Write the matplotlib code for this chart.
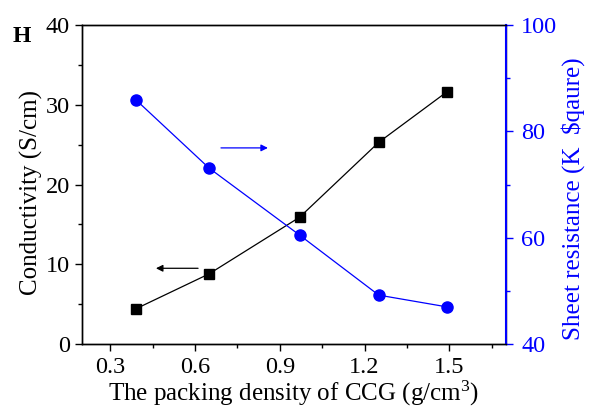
import matplotlib
matplotlib.use("Agg")
import matplotlib.pyplot as plt
from matplotlib.ticker import MultipleLocator

plt.rcParams['font.family'] = ['Liberation Serif', 'DejaVu Serif']
plt.rcParams['mathtext.fontset'] = 'custom'
plt.rcParams['mathtext.rm'] = 'Liberation Serif'
plt.rcParams['mathtext.it'] = 'Liberation Serif:italic'

density = [0.39, 0.65, 0.97, 1.25, 1.49]
conductivity = [4.4, 8.8, 15.9, 25.3, 31.6]
sheet_res = [86.0, 73.1, 60.5, 49.2, 47.0]

fig = plt.figure(figsize=(5.89, 4.12), dpi=100)
ax = fig.add_axes([0.139, 0.165, 0.72, 0.774])
ax2 = ax.twinx()

ax.plot(density, conductivity, color='black', lw=0.9, marker='s', ms=7, zorder=3)
ax2.plot(density, sheet_res, color='#0000FF', lw=0.9, marker='o', ms=8, zorder=3)

ax.set_xlim(0.2, 1.7)
ax.set_ylim(0, 40)
ax2.set_ylim(40, 100)
ax.xaxis.set_major_locator(MultipleLocator(0.3))
ax.xaxis.set_minor_locator(MultipleLocator(0.15))
ax.yaxis.set_major_locator(MultipleLocator(10))
ax.yaxis.set_minor_locator(MultipleLocator(5))
ax2.yaxis.set_major_locator(MultipleLocator(20))
ax2.yaxis.set_minor_locator(MultipleLocator(10))
ax.set_xticks([0.3, 0.6, 0.9, 1.2, 1.5])
ax.set_xticklabels(['0.3', '0.6', '0.9', '1.2', '1.5'])

for a in (ax, ax2):
    for s in a.spines.values():
        s.set_linewidth(1.0)
ax2.spines['right'].set_color('#0000FF')
ax2.spines['right'].set_linewidth(1.5)

ax.tick_params(axis='both', which='major', direction='out', length=5, width=1, labelsize=17.5)
ax.tick_params(axis='x', which='major', pad=4)
ax.tick_params(axis='both', which='minor', direction='out', length=3, width=1)
ax2.tick_params(axis='y', which='major', direction='out', length=5, width=1, labelsize=17.5,
                colors='#0000FF', pad=6)
ax2.tick_params(axis='y', which='minor', direction='out', length=3, width=1, colors='#0000FF')

ax.set_xlabel('The packing density of CCG (g/cm$^3$)', fontsize=18, labelpad=1)
ax.set_ylabel('Conductivity (S/cm)', fontsize=18, va='center')
ax.yaxis.set_label_coords(-0.12, 0.475)
ax2.set_ylabel('Sheet resistance (K  \\$qaure)', fontsize=18, color='#0000FF', va='center')
ax2.yaxis.set_label_coords(1.158, 0.455)

ax.annotate('', xy=(0.462, 9.5), xytext=(0.611, 9.5),
            arrowprops=dict(arrowstyle='-|>', color='black', lw=0.9,
                            mutation_scale=10, shrinkA=0, shrinkB=0))
ax2.annotate('', xy=(0.858, 76.9), xytext=(0.692, 76.9),
             arrowprops=dict(arrowstyle='-|>', color='#0000FF', lw=0.9,
                             mutation_scale=10, shrinkA=0, shrinkB=0))

fig.text(0.022, 0.912, 'H', fontsize=17, fontweight='bold', ha='left', va='center')

fig.savefig('out.png', dpi=100)
